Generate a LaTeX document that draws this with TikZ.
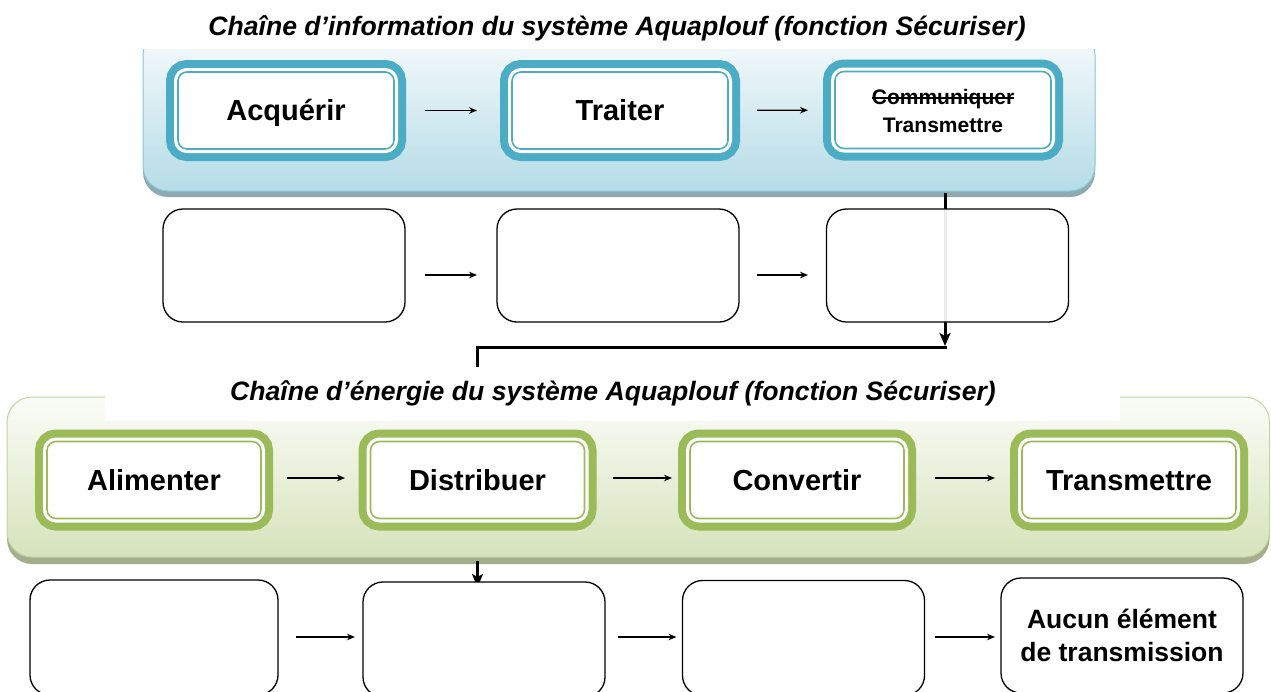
\documentclass[tikz,border=0pt]{standalone}
\usepackage{fontspec}
\setmainfont{Liberation Sans}
\newcommand\mystrike[1]{\begingroup\setbox0=\hbox{#1}\rlap{\rule[0.27em]{\wd0}{1.7pt}}\box0\endgroup}
\usetikzlibrary{arrows.meta}
\pgfdeclarelayer{bg}
\pgfdeclarelayer{mid}
\pgfsetlayers{bg,mid,main}
\definecolor{bluea}{HTML}{4BACC6}
\definecolor{greena}{HTML}{9BBB59}
\definecolor{bluetop}{HTML}{F8FBFC}
\definecolor{bluebot}{HTML}{B5DCE7}
\definecolor{blueedge}{HTML}{8CC6D6}
\definecolor{blueshadow}{HTML}{8DA9B1}
\definecolor{greentop}{HTML}{FBFCF8}
\definecolor{greenbot}{HTML}{D6E3BB}
\definecolor{greenedge}{HTML}{C2D69B}
\definecolor{greenshadow}{HTML}{A4AE8E}
\begin{document}
\begin{tikzpicture}[x=1pt,y=-1pt,
  chainbox/.style={rounded corners=9pt, minimum width=216pt, minimum height=77pt,
    outer sep=0pt, inner sep=0pt, fill=white, line width=1.6pt,
    font=\fontsize{29}{34}\selectfont\bfseries, text height=20.8pt, text depth=0pt},
  bluebox/.style={chainbox, draw=bluea,
    preaction={draw=bluea, line width=24pt},
    preaction={draw=white, line width=8pt}},
  greenbox/.style={chainbox, draw=greena, minimum width=214pt,
    preaction={draw=greena, line width=24pt},
    preaction={draw=white, line width=8pt}},
  plainbox/.style={draw=black, line width=1.3pt, rounded corners=20pt, fill=white,
    minimum width=242pt, minimum height=113pt, outer sep=0pt, inner sep=0pt,
    font=\fontsize{26.5}{33}\selectfont\bfseries, align=center},
  arr/.style={line width=1.4pt, -{Stealth[length=8pt,width=6.5pt]}},
  conn/.style={line width=3pt, line join=miter},
  bigtip/.style={-{Stealth[length=13pt,width=11pt,inset=3pt]}},
  title/.style={anchor=base, font=\fontsize{26.6}{31}\selectfont\bfseries\itshape}
]
\useasboundingbox (0,0) rectangle (1271,691);
\clip (0,0) rectangle (1271,691);

% ---- information chain boxes
\node[bluebox] (acq) at (286,110.5) {Acquérir};
\node[bluebox] (tra) at (620,110.5) {Traiter};
\node[bluebox, font=\fontsize{21}{28}\selectfont\bfseries, text height=16.5pt, text depth=0pt] (com) at (943,110)
  {\begin{tabular}{@{}c@{}}\mystrike{Communiquer}\\Transmettre\end{tabular}};

\node[plainbox] (acq2) at (284,265.5) {};
\node[plainbox] (tra2) at (618,265.5) {};
\node[plainbox, fill opacity=0.92] (com2) at (947.5,265.5) {};

% ---- energy chain boxes
\node[greenbox] (ali) at (154,480) {Alimenter};
\node[greenbox] (dis) at (477.5,480) {Distribuer};
\node[greenbox] (conv) at (797,480) {Convertir};
\node[greenbox] (trs) at (1129,480) {Transmettre};

\node[plainbox, minimum width=248pt, minimum height=115pt] (ali2) at (154,637.5) {};
\node[plainbox, minimum height=115pt] (dis2) at (484,639.5) {};
\node[plainbox, minimum height=115pt] (conv2) at (803.5,638) {};
\node[plainbox, minimum height=115pt] (trs2) at (1122,635.5) {Aucun élément\\de transmission};

% ---- titles
\node[title] (t1) at (617,35) {Chaîne d’information du système Aquaplouf (fonction Sécuriser)};
\node[title] (t2) at (613,400) {Chaîne d’énergie du système Aquaplouf (fonction Sécuriser)};

% ---- small arrows
\draw[arr, shorten <=31pt, shorten >=35pt] (acq) -- (tra);
\draw[arr, shorten <=29pt, shorten >=27pt] (tra) -- (com);
\draw[arr, shorten <=20pt, shorten >=20pt] ([yshift=-9.5pt]acq2.east) -- ([yshift=-9.5pt]tra2.west);
\draw[arr, shorten <=18pt, shorten >=18.5pt] ([yshift=-9.5pt]tra2.east) -- ([yshift=-9.5pt]com2.west);

\draw[arr, shorten <=26pt, shorten >=25.5pt] ([yshift=2pt]ali.east) -- ([yshift=2pt]dis.west);
\draw[arr, shorten <=28.5pt, shorten >=18pt] ([yshift=2pt]dis.east) -- ([yshift=2pt]conv.west);
\draw[arr, shorten <=31pt, shorten >=27pt] ([yshift=2pt]conv.east) -- ([yshift=2pt]trs.west);

\draw[arr, shorten <=18pt, shorten >=8pt] (ali2.east |- 0,637) -- (dis2.west |- 0,637);
\draw[arr, shorten <=13pt, shorten >=6pt] (dis2.east |- 0,637) -- (conv2.west |- 0,637);
\draw[arr, shorten <=10pt, shorten >=6pt] (conv2.east |- 0,637) -- (trs2.west |- 0,637);

% ---- big connectors
\coordinate (j1) at (945,347);
\coordinate (j2) at (477,347);
\coordinate (j3) at (477,367);
\begin{pgfonlayer}{mid}
\draw[conn, bigtip, shorten <=44.5pt, shorten >=1pt] ([xshift=2pt]com.south) -- (j1);
\draw[conn] ([xshift=1.5pt]j1) -- (j2) -- (j3);
\draw[conn, bigtip, shorten <=42.5pt, shorten >=-5pt] (dis.south) -- (dis.south |- dis2.north);
\end{pgfonlayer}

% ---- panels
\begin{pgfonlayer}{bg}
\fill[blueshadow, rounded corners=25pt] (143,36) rectangle (1095,197);
\path[top color=bluetop, bottom color=bluebot, draw=blueedge, line width=1pt, rounded corners=25pt]
  (143,30) rectangle (1095,191);
\fill[white] (0,0) rectangle (1271,48.5);
\fill[greenshadow, rounded corners=25pt] (7,403) rectangle (1269.5,564);
\path[top color=greentop, bottom color=greenbot, draw=greenedge, line width=1pt, rounded corners=25pt]
  (7,397) rectangle (1269.5,557);
\fill[white] (105,375) rectangle (1120,421);
\end{pgfonlayer}
\end{tikzpicture}
\end{document}
